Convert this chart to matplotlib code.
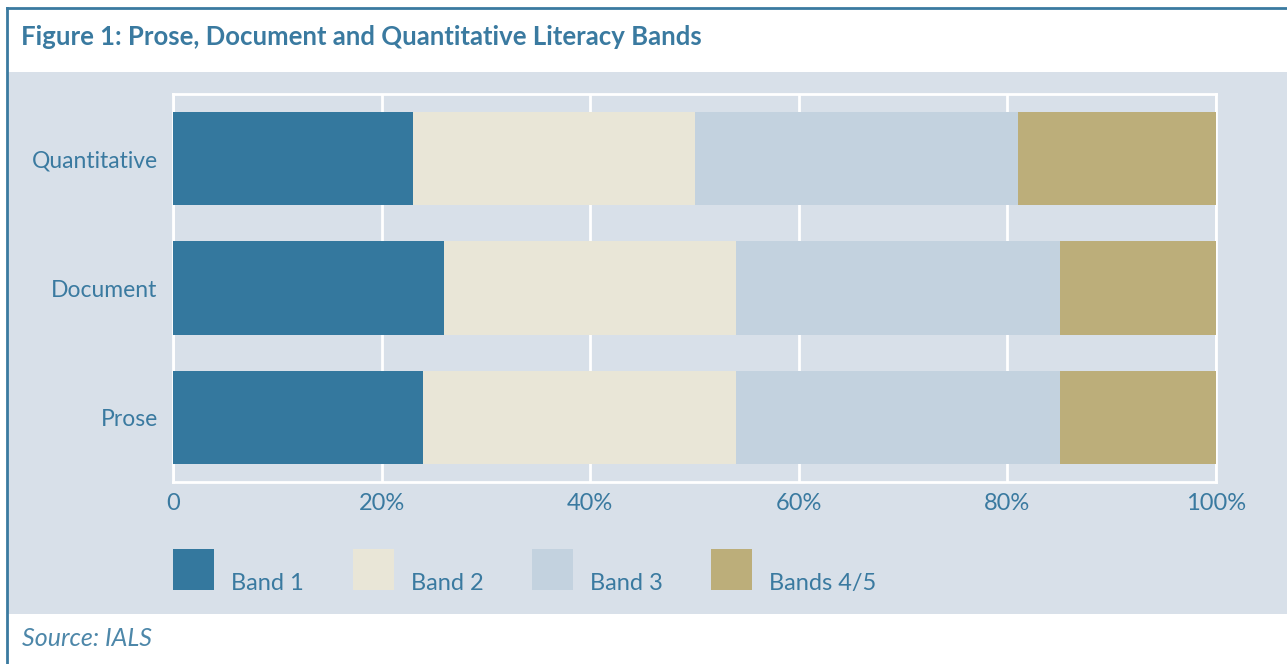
import matplotlib
matplotlib.use("Agg")
from matplotlib import pyplot as plt
from matplotlib.patches import Rectangle
from matplotlib.lines import Line2D

# data (percent of adults in each band)
categories = ["Prose", "Document", "Quantitative"]
bands = ["Band 1", "Band 2", "Band 3", "Bands 4/5"]
band1 = [24, 26, 23]
band2 = [30, 28, 27]
band3 = [31, 31, 31]
band45 = [15, 15, 19]
tick_vals = [0, 20, 40, 60, 80, 100]
tick_labels = ["0", "20%", "40%", "60%", "80%", "100%"]

colors = ["#34789e", "#e9e6d7", "#c3d2df", "#bcae7a"]
panel = "#d8e0e9"
blue = "#3a7aa0"
W, H = 1287, 664

plt.rcParams['font.family'] = ['Lato', 'DejaVu Sans']
fig = plt.figure(figsize=(W / 100, H / 100), dpi=100)
fig.patch.set_facecolor("white")

# grey panel and blue border
fig.add_artist(Rectangle((8 / W, 1 - 614 / H), 1, (614 - 72) / H,
                         transform=fig.transFigure, facecolor=panel, edgecolor="none", zorder=0))
fig.add_artist(Line2D([7 / W, 7 / W], [0, 1 - 8 / H], transform=fig.transFigure, color=blue, lw=2))
fig.add_artist(Line2D([7 / W, 1], [1 - 8 / H, 1 - 8 / H], transform=fig.transFigure, color=blue, lw=2))

fig.text(21 / W, 1 - 37 / H, "Figure 1: Prose, Document and Quantitative Literacy Bands",
         color=blue, fontsize=18.5, fontweight="bold", va="center", ha="left")
fig.text(22 / W, 1 - 638 / H, "Source: IALS", color=blue, fontsize=18,
         style="italic", va="center", ha="left", alpha=0.9)

ax = fig.add_axes([173 / W, 1 - 482 / H, (1216 - 173) / W, (482 - 94) / H])
ax.set_facecolor(panel)

series = [band1, band2, band3, band45]
left = [0, 0, 0]
for vals, c, lab in zip(series, colors, bands):
    ax.barh(categories, vals, left=left, height=0.72, color=c, label=lab, zorder=3)
    left = [l + v for l, v in zip(left, vals)]

ax.set_xlim(0, 100)
ax.set_ylim(-0.5, 2.5)
ax.set_xticks(tick_vals)
ax.set_xticklabels(tick_labels)
ax.grid(axis="x", color="white", lw=2, zorder=1)
ax.tick_params(axis="both", length=0, colors=blue, labelsize=17)
ax.tick_params(axis="x", pad=8)
ax.tick_params(axis="y", pad=11)
for lbl in ax.get_yticklabels():
    lbl.set_fontsize(16.5)
for s in ax.spines.values():
    s.set_color("white")
    s.set_linewidth(2)

# legend drawn by hand
legend_x = [173, 353, 532, 711]
for x, c, lab in zip(legend_x, colors, bands):
    fig.add_artist(Rectangle((x / W, 1 - 590 / H), 41 / W, 41 / H,
                             transform=fig.transFigure, facecolor=c, edgecolor="none"))
    fig.text((x + 58) / W, 1 - 590 / H, lab, color=blue, fontsize=17,
             va="baseline", ha="left")

fig.savefig("out.png", dpi=100)
